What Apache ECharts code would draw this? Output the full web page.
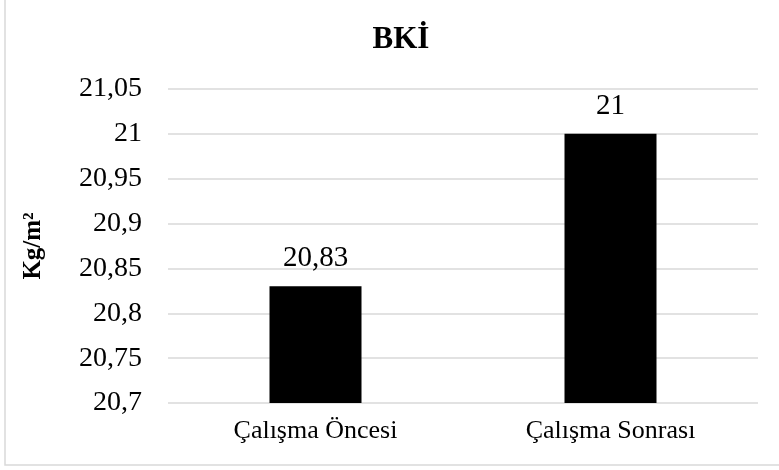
<!DOCTYPE html>
<html>
<head>
<meta charset="utf-8">
<script src="https://cdn.jsdelivr.net/npm/echarts@6/dist/echarts.min.js"></script>
<style>
  html, body { margin: 0; padding: 0; background: #fff; }
  #chart { width: 779px; height: 470px; }
</style>
</head>
<body>
<div id="chart"></div>
<script>
const categories = ['Çalışma Öncesi', 'Çalışma Sonrası']
const values = [20.83, 21]
const yMin = 20.7
const yMax = 21.05
const yStep = 0.05

const font = '"Liberation Serif", "Times New Roman", serif'
const fmt = v => String(+(+v).toFixed(2)).replace('.', ',')

const chart = echarts.init(document.getElementById('chart'))
chart.setOption({
  animation: false,
  textStyle: { fontFamily: font },
  title: {
    text: 'BKİ',
    left: 396,
    top: 19,
    textAlign: 'center',
    textStyle: { fontFamily: font, fontSize: 31, fontWeight: 'bold', color: '#000' }
  },
  graphic: [{
    type: 'rect',
    shape: { x: 5, y: -10, width: 800, height: 475 },
    style: { fill: 'none', stroke: '#d9d9d9', lineWidth: 1.5 },
    silent: true
  }],
  grid: { left: 168, right: 21, top: 89, bottom: 67 },
  xAxis: {
    type: 'category',
    data: categories,
    axisLine: { show: false },
    axisTick: { show: false },
    axisLabel: { color: '#000', fontSize: 26, fontFamily: font, margin: 15 }
  },
  yAxis: {
    type: 'value',
    min: yMin,
    max: yMax,
    interval: yStep,
    name: 'Kg/m²',
    nameLocation: 'middle',
    nameGap: 122,
    nameRotate: 90,
    nameTextStyle: { color: '#000', fontSize: 25, fontWeight: 'bold', fontFamily: font },
    axisLine: { show: false },
    axisTick: { show: false },
    axisLabel: { color: '#000', fontSize: 28, fontFamily: font, margin: 26, formatter: fmt },
    splitLine: { lineStyle: { color: '#d9d9d9', width: 1.5 } }
  },
  series: [{
    type: 'bar',
    data: values,
    barWidth: 92,
    itemStyle: { color: '#000' },
    label: {
      show: true,
      position: 'top',
      distance: 13,
      color: '#000',
      fontSize: 29,
      fontFamily: font,
      formatter: p => fmt(p.value)
    }
  }]
})
</script>
</body>
</html>
